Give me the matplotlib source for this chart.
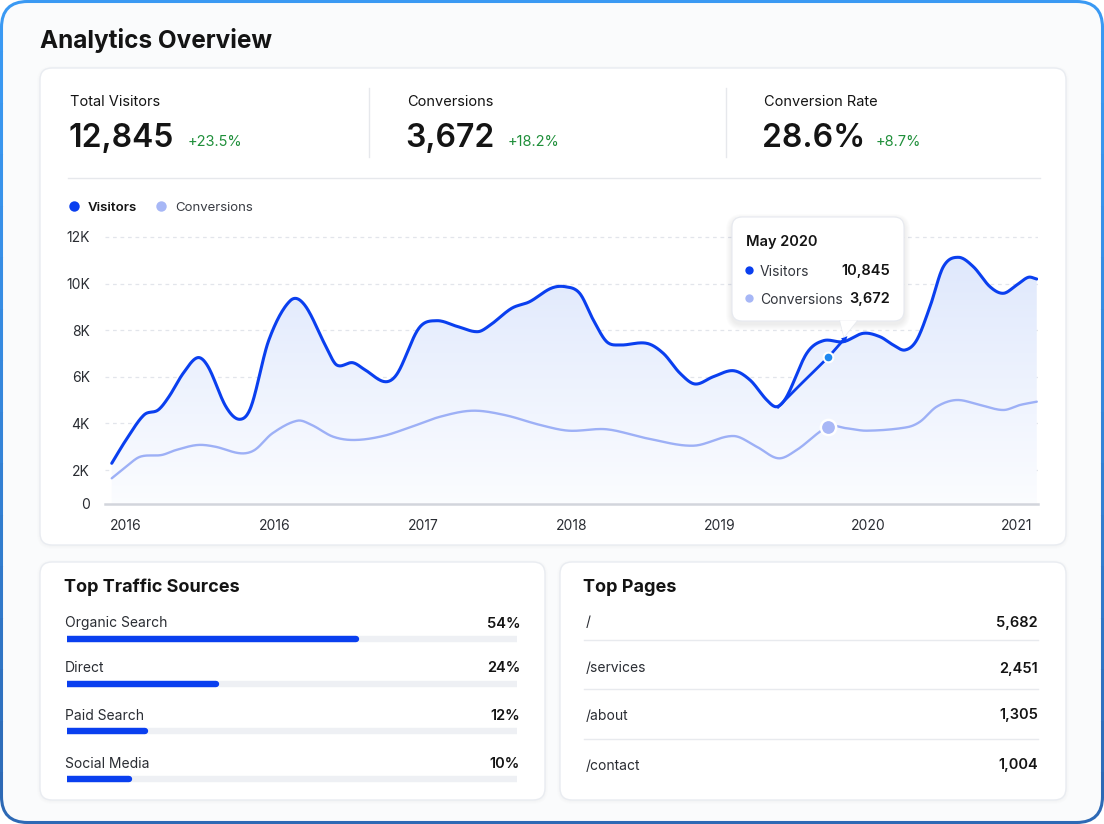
import numpy as np
import matplotlib
matplotlib.use('Agg')
import matplotlib.pyplot as plt
from matplotlib.patches import FancyBboxPatch, Polygon, Rectangle
from matplotlib.colors import to_rgb

plt.rcParams['font.family'] = ['Inter', 'DejaVu Sans']

# ------------------------------------------------------------------ data
title = "Analytics Overview"
kpi_labels = ["Total Visitors", "Conversions", "Conversion Rate"]
kpi_values = ["12,845", "3,672", "28.6%"]
kpi_changes = ["+23.5%", "+18.2%", "+8.7%"]

legend_labels = ["Visitors", "Conversions"]

visitors_t = [-0.096, 0.0, 0.121, 0.216, 0.289, 0.385, 0.481, 0.553, 0.673, 0.765,
              0.842, 0.962, 1.106, 1.203, 1.347, 1.419, 1.527, 1.611, 1.743, 1.828,
              1.972, 2.092, 2.236, 2.369, 2.453, 2.597, 2.718, 2.862, 2.958, 3.055,
              3.147, 3.237, 3.327, 3.506, 3.618, 3.731, 3.832, 3.955, 4.09, 4.202,
              4.315, 4.382, 4.449, 4.584, 4.696, 4.831, 4.965, 5.077, 5.167, 5.246,
              5.325, 5.414, 5.504, 5.605, 5.706, 5.818, 5.908, 5.998, 6.076, 6.133]
visitors_v = [2288, 3288, 4361, 4575, 5146, 6150, 6820, 6433, 4717, 4176,
              4717, 7579, 9266, 9082, 7292, 6506, 6605, 6292, 5790, 6150,
              8082, 8408, 8150, 7936, 8223, 8940, 9223, 9798, 9867, 9584,
              8438, 7506, 7365, 7438, 7009, 6150, 5691, 6004, 6262, 5863,
              5004, 4717, 5146, 7009, 7550, 7506, 7867, 7721, 7365, 7150,
              7579, 9009, 10725, 11129, 10725, 9867, 9584, 9940, 10270, 10197]

conversions_t = [-0.096, 0.0, 0.096, 0.24, 0.337, 0.481, 0.601, 0.77, 0.866, 0.986,
                 1.154, 1.251, 1.395, 1.539, 1.731, 1.924, 2.116, 2.333, 2.549, 2.79,
                 2.982, 3.237, 3.506, 3.82, 4.09, 4.247, 4.393, 4.516, 4.729, 4.853,
                 4.988, 5.257, 5.347, 5.459, 5.594, 5.751, 5.908, 6.02, 6.133]
conversions_v = [1644, 2142, 2571, 2644, 2858, 3073, 3000, 2717, 2858, 3575,
                 4116, 3931, 3429, 3288, 3459, 3858, 4288, 4545, 4361, 3931,
                 3687, 3747, 3361, 3043, 3459, 3000, 2502, 2858, 3858, 3790,
                 3687, 3832, 4073, 4717, 5004, 4790, 4575, 4790, 4932]

hover_t = [4.391, 4.539, 4.729, 4.831]
hover_v = [4700, 5650, 6850, 7580]
hover_point_t = 4.729
hover_visitors_mark = 6840
hover_conversions_mark = 3858

x_tick_pos = [0, 1, 2, 3, 4, 5, 6]
x_tick_labels = ["2016", "2016", "2017", "2018", "2019", "2020", "2021"]
y_tick_vals = [2000, 4000, 6000, 8000, 10000, 12000]
y_tick_labels = ["2K", "4K", "6K", "8K", "10K", "12K"]
baseline_label = "0"

tooltip_title = "May 2020"
tooltip_series = ["Visitors", "Conversions"]
tooltip_values = ["10,845", "3,672"]

sources = ["Organic Search", "Direct", "Paid Search", "Social Media"]
source_pct = [54, 24, 12, 10]
source_bar = [0.643, 0.330, 0.173, 0.138]

pages = ["/", "/services", "/about", "/contact"]
page_views = [5682, 2451, 1305, 1004]

# ------------------------------------------------------------------ style
W, H = 1104, 824
BLUE = "#0A3FEF"
LIGHT = "#9DB0F6"
GREEN = "#1F8F3A"
DARK = "#141414"
TEXT = "#2A2D33"
BORDER = "#E9ECF1"
DY = 1.5


def smooth(x, y, n=24):
    x = np.asarray(x, float)
    y = np.asarray(y, float)
    m = np.zeros_like(y)
    m[1:-1] = (y[2:] - y[:-2]) / (x[2:] - x[:-2])
    m[0] = (y[1] - y[0]) / (x[1] - x[0])
    m[-1] = (y[-1] - y[-2]) / (x[-1] - x[-2])
    xs, ys = [], []
    for i in range(len(x) - 1):
        h = x[i + 1] - x[i]
        s = np.linspace(0, 1, n, endpoint=False)
        h00 = 2 * s**3 - 3 * s**2 + 1
        h10 = s**3 - 2 * s**2 + s
        h01 = -2 * s**3 + 3 * s**2
        h11 = s**3 - s**2
        xs.append(x[i] + s * h)
        ys.append(h00 * y[i] + h10 * h * m[i] + h01 * y[i + 1] + h11 * h * m[i + 1])
    xs.append([x[-1]])
    ys.append([y[-1]])
    return np.concatenate(xs), np.concatenate(ys)


fig = plt.figure(figsize=(W / 100, H / 100), dpi=100)
fig.patch.set_facecolor("white")

bg = fig.add_axes([0, 0, 1, 1], zorder=0)
bg.set_xlim(0, W)
bg.set_ylim(H, 0)
bg.axis("off")


def rbox(ax, x, y, w, h, r, fc, ec="none", lw=1.0, z=1, alpha=1.0):
    p = FancyBboxPatch((x, y), w, h, boxstyle=f"round,pad=0,rounding_size={r}",
                       fc=fc, ec=ec, lw=lw, zorder=z, alpha=alpha)
    ax.add_patch(p)
    return p


# outer frame with a top-to-bottom colour shift on the border
rbox(bg, 1.5, 1.5, W - 3, H - 3, 26, "#FAFBFC", z=0)
c_a = np.array(to_rgb("#3A99F3"))
c_b = np.array(to_rgb("#2D69B5"))
N = 16
for k in range(N):
    f = k / (N - 1)
    col = c_a * (1 - f ** 1.3) + c_b * f ** 1.3
    p = rbox(bg, 1.5, 1.5, W - 3, H - 3, 26, "none", ec=col, lw=2.2, z=0.5)
    clip = Rectangle((0, k * H / N - 0.5), W, H / N + 1, transform=bg.transData)
    p.set_clip_path(clip)

bg.text(40, 39 + DY, title, fontsize=17.5, fontweight="bold", color=DARK, va="center", ha="left")

# cards
for (x, y, w, h) in [(40, 68, 1026, 477), (40, 562, 505, 238), (560, 562, 506, 238)]:
    for k in range(4):
        rbox(bg, x - k, y - k + 1, w + 2 * k, h + 2 * k, 12 + k, "#000000", z=1, alpha=0.008)
    rbox(bg, x, y, w, h, 12, "white", ec=BORDER, lw=1.0, z=2)

# KPI row
kpi_x = [70, 407, 764]
chg_x = [188, 508, 876]
for i in range(3):
    bg.text(kpi_x[i], 100 + DY, kpi_labels[i], fontsize=10.5, color=DARK, va="center", ha="left", zorder=3)
    bg.text(kpi_x[i] - 2, 137 + DY, kpi_values[i], fontsize=23, fontweight="semibold", color=DARK,
            va="center", ha="left", zorder=3)
    bg.text(chg_x[i], 140 + DY, kpi_changes[i], fontsize=10.5, color=GREEN, va="center", ha="left", zorder=3)
for sx in [369, 726]:
    bg.plot([sx, sx], [88, 157], color="#E6E8EC", lw=1.0, zorder=3)
bg.plot([68, 1040], [178, 178], color="#E6E8EC", lw=1.0, zorder=3)

# legend
bg.plot(74, 206, "o", ms=7.5, color=BLUE, mec="none", zorder=3)
bg.text(88, 206 + DY, legend_labels[0], fontsize=9.5, fontweight="semibold", color=DARK, va="center", zorder=3)
bg.plot(161, 206, "o", ms=7.5, color="#A7B7F6", mec="none", zorder=3)
bg.text(175, 206 + DY, legend_labels[1], fontsize=9.5, color="#3A3D44", va="center", zorder=3)

# ------------------------------------------------------------------ chart
px_left, px_right, px_top, px_bot = 105, 1038, 215, 504
ax = fig.add_axes([px_left / W, 1 - px_bot / H, (px_right - px_left) / W, (px_bot - px_top) / H], zorder=5)
ax.patch.set_alpha(0)
t0 = (px_left - 126) / 148.5
t1 = (px_right - 126) / 148.5
ylo = 2000 + (470 - px_bot) / 23.3 * 1000
yhi = 2000 + (470 - px_top) / 23.3 * 1000
ax.set_xlim(t0, t1)
ax.set_ylim(ylo, yhi)
for s in ax.spines.values():
    s.set_visible(False)

for v in y_tick_vals:
    ax.axhline(v, color="#E2E5EB", lw=0.9, ls=(0, (3, 3)), zorder=1)
ax.axhline(ylo, color="#D2D5DC", lw=1.8, zorder=4, clip_on=False)

vx, vy = smooth(visitors_t, visitors_v)
cx, cy = smooth(conversions_t, conversions_v)

# gradient area
poly = Polygon(np.column_stack([np.r_[vx, vx[-1], vx[0]], np.r_[vy, ylo, ylo]]),
               closed=True, fc="none", ec="none")
ax.add_patch(poly)
grad = np.linspace(0, 1, 256).reshape(-1, 1)
c_top = np.array([0.875, 0.91, 0.99])
c_bot = np.array([0.985, 0.99, 1.0])
img = c_top[None, None, :] * (1 - grad[:, :, None]) + c_bot[None, None, :] * grad[:, :, None]
ymax_fill = max(visitors_v)
im = ax.imshow(img, extent=[t0, t1, ylo, ymax_fill], origin="upper", aspect="auto", zorder=2)
im.set_clip_path(poly)
ax.set_xlim(t0, t1)
ax.set_ylim(ylo, yhi)

ax.plot(cx, cy, color=LIGHT, lw=1.7, zorder=5, solid_capstyle="round")
ax.plot(vx, vy, color=BLUE, lw=2.2, zorder=6, solid_capstyle="round")
hx, hy = smooth(hover_t, hover_v)
ax.plot(hx, hy, color=BLUE, lw=2.0, zorder=6)
ax.annotate("", xy=(hover_t[-1] + 0.04, hover_v[-1] + 250), xytext=(hover_t[-1] - 0.02, hover_v[-1] - 150),
            arrowprops=dict(arrowstyle="-|>", color=BLUE, lw=0, mutation_scale=11), zorder=7)
ax.plot(hover_point_t, hover_visitors_mark, "o", ms=7, color="#1E88F0", mec="white", mew=1.5, zorder=8)
ax.plot(hover_point_t, hover_conversions_mark, "o", ms=11, color="#A9B8F6", mec="white", mew=1.8, zorder=8)

ax.set_xticks(x_tick_pos)
ax.set_xticklabels(x_tick_labels)
ax.set_yticks([ylo] + y_tick_vals)
ax.set_yticklabels([baseline_label] + y_tick_labels)
ax.tick_params(axis="both", length=0, labelsize=10, labelcolor=TEXT)
ax.tick_params(axis="x", pad=11)
ax.tick_params(axis="y", pad=11)

# ------------------------------------------------------------------ tooltip overlay
top = fig.add_axes([0, 0, 1, 1], zorder=10)
top.set_xlim(0, W)
top.set_ylim(H, 0)
top.patch.set_alpha(0)
top.axis("off")
tx, ty, tw, th = 732, 217, 172, 104
for k in range(1, 7):
    rbox(top, tx - k, ty - k + 3, tw + 2 * k, th + 2 * k, 10 + k, "#1A2340", z=1, alpha=0.012)
rbox(top, tx, ty, tw, th, 10, "white", ec="#E6E9EF", lw=0.8, z=2)
top.add_patch(Polygon([[840, 320.5], [857, 320.5], [844, 337]], closed=True, fc="white", ec="none", zorder=3))
top.plot([840, 844, 857], [321, 337, 321], color="#E6E9EF", lw=0.8, zorder=2)
top.text(746, 240 + DY, tooltip_title, fontsize=10.5, fontweight="semibold", color=DARK, va="center", zorder=4)
row_y = [270, 298]
dot_c = [BLUE, "#A7B7F6"]
for i in range(2):
    top.plot(749, row_y[i], "o", ms=6, color=dot_c[i], mec="none", zorder=4)
    top.text(760, row_y[i] + DY, tooltip_series[i], fontsize=10, color="#33363D", va="center", zorder=4)
    top.text(890, row_y[i] + DY, tooltip_values[i], fontsize=10.5, fontweight="semibold", color=DARK,
             va="center", ha="right", zorder=4)

# ------------------------------------------------------------------ bottom panels
bg.text(64, 586 + DY, "Top Traffic Sources", fontsize=13, fontweight="bold", color=DARK, va="center", zorder=3)
lab_y = [622, 667, 714, 762]
bar_y = [639, 684, 731, 779]
for i in range(4):
    bg.text(65, lab_y[i] + DY, sources[i], fontsize=10, color=TEXT, va="center", zorder=3)
    bg.text(520, lab_y[i] + DY, f"{source_pct[i]}%", fontsize=10.5, fontweight="semibold", color=DARK,
            va="center", ha="right", zorder=3)

bax = fig.add_axes([67 / W, 1 - 790 / H, (517 - 67) / W, (790 - 628) / H], zorder=4)
bax.set_xlim(0, 1)
bax.set_ylim(790, 628)
bax.axis("off")
bax.patch.set_alpha(0)
for i in range(4):
    bax.plot([0, 1], [bar_y[i], bar_y[i]], color="#EEF0F4", lw=4.6, solid_capstyle="round")
    bax.plot([0, source_bar[i]], [bar_y[i], bar_y[i]], color=BLUE, lw=4.6, solid_capstyle="round")

bg.text(583, 586 + DY, "Top Pages", fontsize=13, fontweight="bold", color=DARK, va="center", zorder=3)
page_y = [621, 667, 714, 764]
for i in range(4):
    bg.text(586, page_y[i] + DY, pages[i], fontsize=10, color=TEXT, va="center", zorder=3)
    bg.text(1038, page_y[i] + DY, f"{page_views[i]:,}", fontsize=10.5, fontweight="semibold", color=DARK,
            va="center", ha="right", zorder=3)
for sy in [640, 689, 739]:
    bg.plot([584, 1038], [sy, sy], color="#E8EAEE", lw=1.0, zorder=3)

fig.savefig("out.png", dpi=100, facecolor=fig.get_facecolor())
